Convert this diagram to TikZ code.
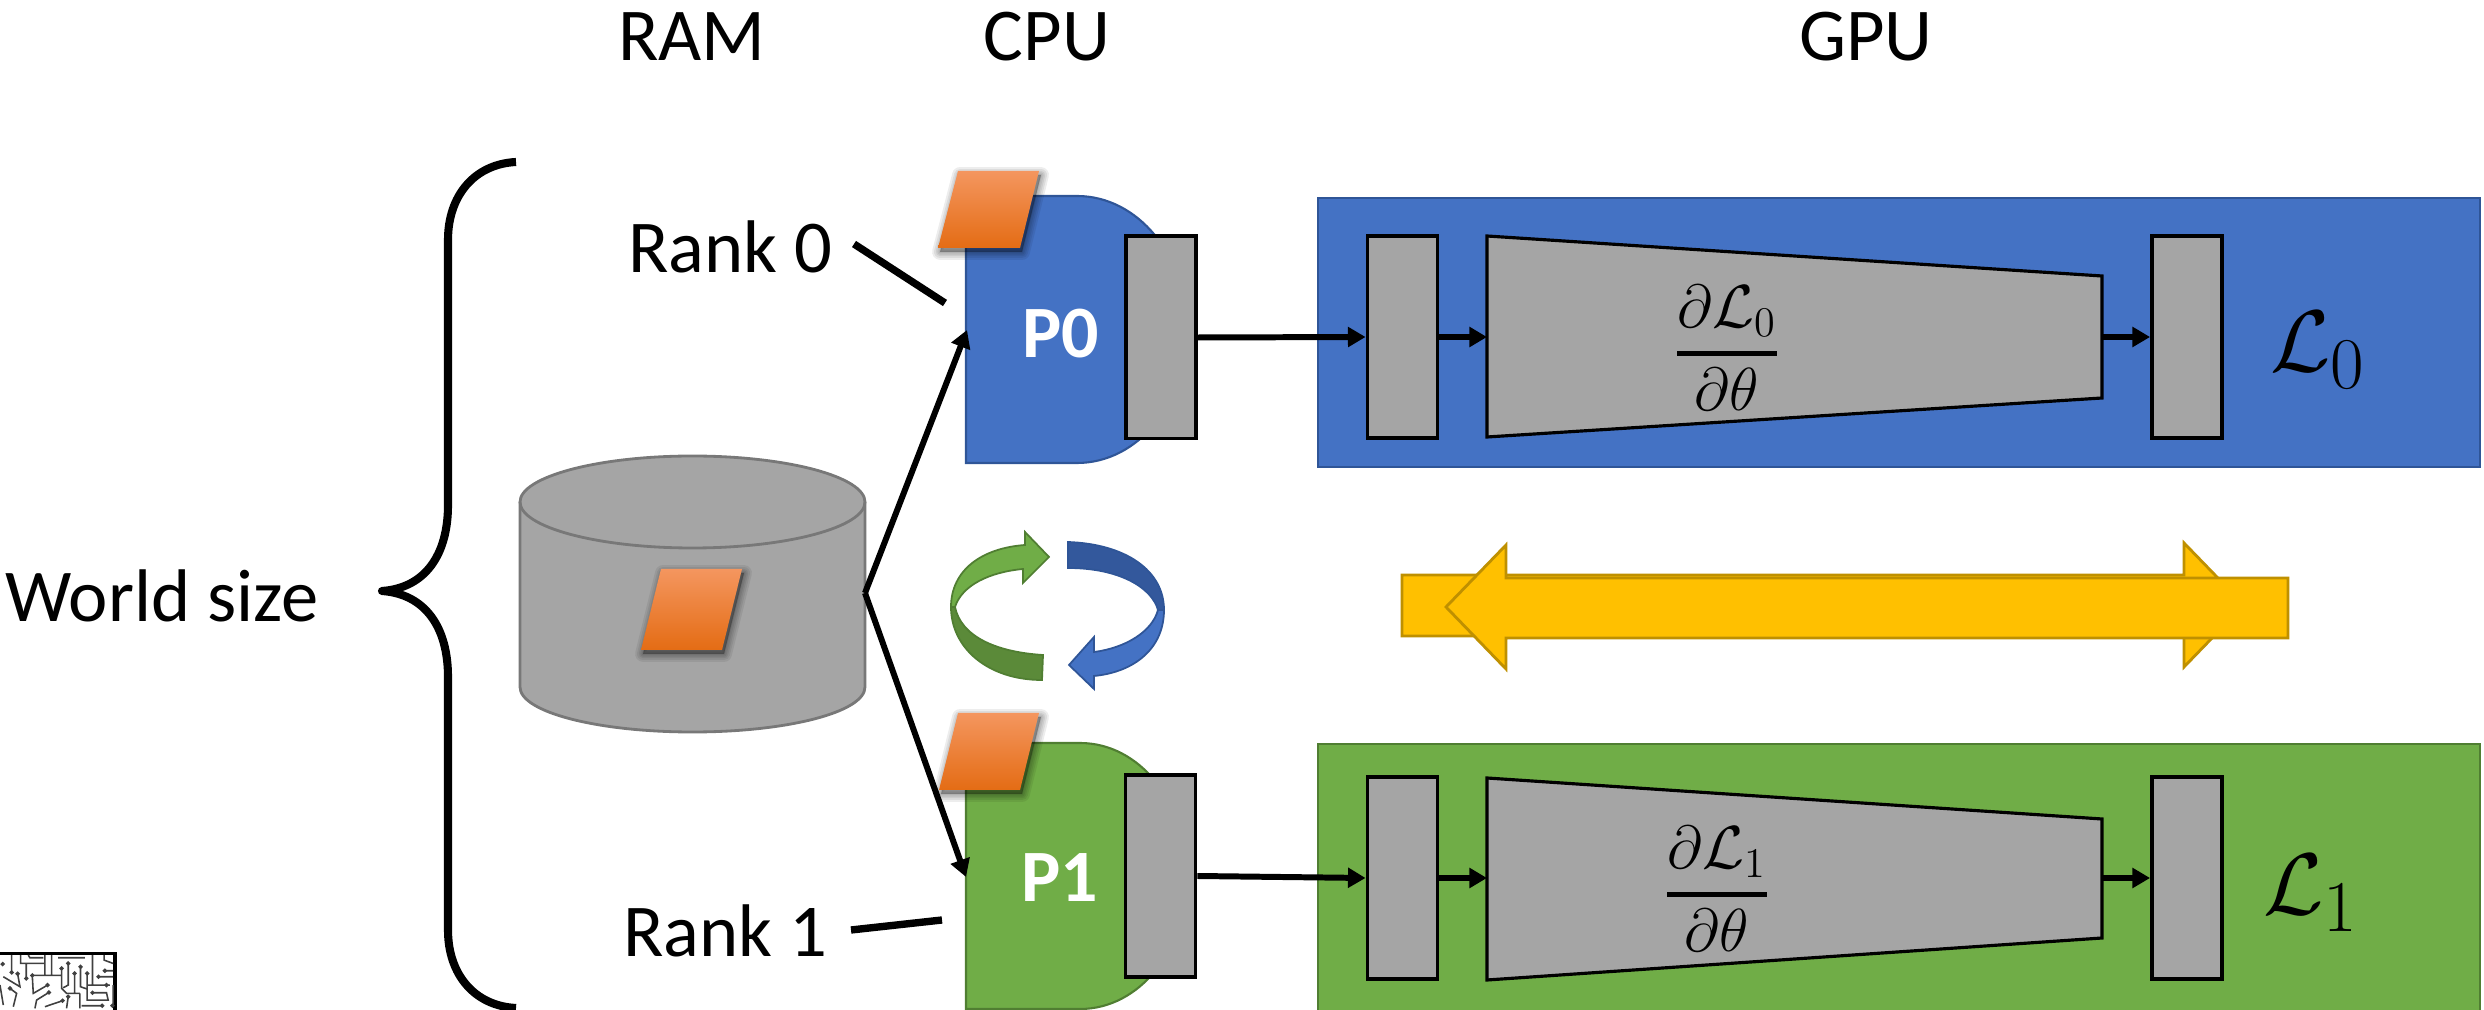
\documentclass[tikz,border=0pt]{standalone}
\usepackage{fontspec}
\setmainfont{Carlito}
\usetikzlibrary{arrows.meta}
\definecolor{bluef}{HTML}{4472C4}
\definecolor{blued}{HTML}{2F5597}
\definecolor{bluedk}{HTML}{33589C}
\definecolor{greenf}{HTML}{70AD47}
\definecolor{greend}{HTML}{507E32}
\definecolor{greendk}{HTML}{5B8A39}
\definecolor{grayf}{HTML}{A5A5A5}
\definecolor{graye}{HTML}{787878}
\definecolor{yelf}{HTML}{FFC000}
\definecolor{yele}{HTML}{BF9000}
\definecolor{orgt}{HTML}{F4965F}
\definecolor{orgm}{HTML}{F77C2A}
\definecolor{orgb}{HTML}{E46C14}
\tikzset{
  label/.style={font=\fontsize{21.2}{24}\selectfont,inner sep=0pt,text=black},
  pname/.style={font=\fontsize{21}{24}\selectfont\bfseries,text=white,inner sep=0pt},
  gblock/.style={draw=black,fill=grayf,line width=1.1pt,inner sep=0pt,minimum width=7mm,minimum height=20.2mm},
  trap/.style={draw=black,fill=grayf,line width=0.9pt,line join=miter},
  conn/.style={draw=black,line width=1.7pt,-{Triangle[length=5pt,width=5.5pt]}},
  stub/.style={draw=black,line width=2.1pt},
  gpu0/.style={draw=blued,fill=bluef,line width=0.6pt},
  gpu1/.style={draw=greend,fill=greenf,line width=0.6pt},
  orangefill/.style={top color=orgt,middle color=orgm,bottom color=orgb},
  yarrow/.style={draw=yele,fill=yelf,line width=0.8pt,line join=miter},
  circ/.style={line width=0.45pt,draw=black!75},
  dot/.style={circ,fill=white}
}
\newcommand{\softshadow}[1]{%
  \foreach \w in {4.5,3.4,2.4,1.5,0.6}{
    \fill[black,opacity=0.07,draw=black,line width=\w pt,line join=round,shift={(2,4)}] #1;
  }%
}
\begin{document}
\begin{tikzpicture}[x=0.01cm,y=-0.01cm]
\useasboundingbox (0,0) rectangle (2484,1010);
\clip (0,0) rectangle (2484,1010);

% header labels
\node[label] (ram) at (692,37) {RAM};
\node[label] (cpu) at (1047,37) {CPU};
\node[label] (gpu) at (1866,37) {GPU};
\node[label] (world) at (162,596) {World size};
\node[label] (rank0) at (730,247) {Rank 0};
\node[label] (rank1) at (725,931) {Rank 1};

% brace
\draw[black,line width=2.3pt,line join=round]
  (516,162) .. controls (475,164) and (448,195) .. (448,240)
  -- (448,505) .. controls (448,555) and (425,588) .. (382,591)
  .. controls (425,594) and (448,627) .. (448,677)
  -- (448,930) .. controls (448,975) and (475,1006) .. (516,1008);

% cylinder
\draw[draw=graye,fill=grayf,line width=0.8pt]
  (520,502) -- (520,687) .. controls (520,712) and (597,732) .. (692.5,732)
  .. controls (788,732) and (865,712) .. (865,687) -- (865,502)
  .. controls (865,477) and (788,456) .. (692.5,456)
  .. controls (597,456) and (520,477) .. (520,502) -- cycle;
\draw[draw=graye,line width=0.8pt]
  (520,502) .. controls (520,527) and (597,548) .. (692.5,548)
  .. controls (788,548) and (865,527) .. (865,502);
\coordinate (disk) at (865,593);

% CPU processes
\draw[gpu0] (966,196) -- (1077,196) .. controls (1138,196) and (1187,256) .. (1187,329.5)
  .. controls (1187,403) and (1138,463) .. (1077,463) -- (966,463) -- cycle;
\draw[gpu1] (966,743) -- (1080,743) .. controls (1140,743) and (1187,803) .. (1187,876)
  .. controls (1187,949) and (1140,1009) .. (1080,1009) -- (966,1009) -- cycle;
\node[pname] (p0) at (1061,334) {P0};
\node[pname] (p1) at (1060,878) {P1};
\node[gblock] (buf0) at (1161,337.5) {};
\node[gblock] (buf1) at (1160.5,876) {};
\coordinate (in0) at (967,330);
\coordinate (in1) at (966,877);

% GPU boxes
\draw[gpu0] (1318,198) rectangle (2480,467);
\draw[gpu1] (1318,744) rectangle (2480,1012);

% GPU 0 network
\node[gblock] (a0) at (1402.5,337) {};
\node[gblock] (c0) at (2187,337) {};
\draw[trap] (1487,236) -- (2102,276) -- (2102,398) -- (1487,437) -- cycle;
\coordinate (t0l) at (1487,337);
\coordinate (t0r) at (2102,337);
\node[inner sep=0pt,font=\fontsize{17.28}{22}\selectfont] (f0) at (1727,348) {$\displaystyle{\partial\mathcal{L}_0 \above 1.2pt \partial\theta}$};
\node[inner sep=0pt,font=\fontsize{24.88}{30}\selectfont] (l0) at (2318,350) {$\mathcal{L}_0$};

% GPU 1 network
\node[gblock] (a1) at (1402.5,878) {};
\node[gblock] (c1) at (2187,878) {};
\draw[trap] (1487,778) -- (2102,819) -- (2102,938) -- (1487,980) -- cycle;
\coordinate (t1l) at (1487,878);
\coordinate (t1r) at (2102,878);
\node[inner sep=0pt,font=\fontsize{17.28}{22}\selectfont] (f1) at (1717,889) {$\displaystyle{\partial\mathcal{L}_1 \above 1.2pt \partial\theta}$};
\node[inner sep=0pt,font=\fontsize{24.88}{30}\selectfont] (l1) at (2311,893) {$\mathcal{L}_1$};

% connectors
\draw[conn] (disk) -- (in0);
\draw[conn] (disk) -- (in1);
\draw[conn] (buf0.east) -- (a0.west);
\draw[conn] (buf1.east) -- (a1.west);
\draw[conn] (a0.east) -- (t0l);
\draw[conn] (a1.east) -- (t1l);
\draw[conn] (t0r) -- (c0.west);
\draw[conn] (t1r) -- (c1.west);
\coordinate (r0a) at (854,244);
\coordinate (r0b) at (945,303);
\coordinate (r1a) at (851,930);
\coordinate (r1b) at (942,920);
\draw[stub] (r0a) -- (r0b);
\draw[stub] (r1a) -- (r1b);

% data chunks
\softshadow{(958,171) -- (1039,171) -- (1020,248) -- (938,248) -- cycle}
\shade[orangefill] (958,171) -- (1039,171) -- (1020,248) -- (938,248) -- cycle;
\softshadow{(958,713) -- (1039,713) -- (1020,790) -- (939,790) -- cycle}
\shade[orangefill] (958,713) -- (1039,713) -- (1020,790) -- (939,790) -- cycle;
\softshadow{(661,569) -- (742,569) -- (722,650) -- (641,650) -- cycle}
\shade[orangefill] (661,569) -- (742,569) -- (722,650) -- (641,650) -- cycle;

% cycle arrows
\draw[draw=greend,fill=greendk,line width=0.5pt]
  (951,607) .. controls (951,648) and (988,680) .. (1042,680) -- (1043,655)
  .. controls (995,652) and (961,636) .. (955,607) -- cycle;
\draw[draw=greend,fill=greenf,line width=0.5pt,line join=miter]
  (951,607) .. controls (951,570) and (982,548) .. (1025,545) -- (1025,532) -- (1049,557)
  -- (1023,583) -- (1023,569) .. controls (990,572) and (962,585) .. (955,607) -- cycle;
\draw[draw=blued,fill=bluedk,line width=0.5pt]
  (1068,542) .. controls (1125,544) and (1164,570) .. (1164,610) -- (1158,610)
  .. controls (1152,588) and (1120,568) .. (1068,568) -- cycle;
\draw[draw=blued,fill=bluef,line width=0.5pt,line join=miter]
  (1164,610) .. controls (1164,648) and (1135,672) .. (1094,676) -- (1094,689) -- (1069,665)
  -- (1094,637) -- (1094,652) .. controls (1125,648) and (1152,632) .. (1158,610) -- cycle;

% yellow double arrow
\draw[yarrow] (1402,575) -- (2184,575) -- (2184,543) -- (2244,605) -- (2184,667) -- (2184,636) -- (1402,636) -- cycle;
\draw[yarrow] (2288,578) -- (1506,578) -- (1506,545) -- (1446,607) -- (1506,669) -- (1506,638) -- (2288,638) -- cycle;

% circuit thumbnail
\begin{scope}[x=0.003333cm,y=-0.003333cm,shift={(0,2700)}]
\draw[black,line width=1.1pt] (-5,165) -- (346,165) -- (346,335);
\draw[circ]
 (35,170)--(35,222) (62,170)--(62,195)--(135,195) (85,170)--(90,178)--(130,178)
 (135,170)--(135,230) (155,170)--(155,230) (175,178)--(255,178)
 (53,226)--(60,265)--(10,235) (79,195)--(79,240) (97,231)--(185,231)
 (97,231)--(100,285)--(143,260)
 (185,210)--(185,270)--(200,285)--(240,285)
 (205,195)--(205,260)--(190,268)
 (224,225)--(224,285)
 (242,205)--(242,265)--(262,272)
 (262,225)--(262,260)--(330,260)
 (278,170)--(278,260)
 (278,283)--(320,283)--(325,305)--(262,305)--(262,262)
 (296,235)--(340,235) (315,217)--(340,217)
 (313,170)--(313,185)--(340,195)
 (30,270)--(50,285)--(40,325)
 (0,260)--(10,320)
 (147,282)--(110,305)--(105,330)
 (188,307)--(135,325) (205,295)--(200,330)
 (240,285)--(240,330) (245,322)--(307,322) (340,260)--(340,320);
\foreach \p in {(8,197),(35,222),(53,226),(79,240),(97,231),(143,260),(30,270),(147,282),
  (185,210),(205,195),(224,225),(242,205),(262,225),(278,283),(296,235),(315,217),(320,260),
  (188,307),(205,295),(307,322),(338,322)}{
  \draw[dot] \p circle [radius=4];
}
\end{scope}
\end{tikzpicture}
\end{document}
